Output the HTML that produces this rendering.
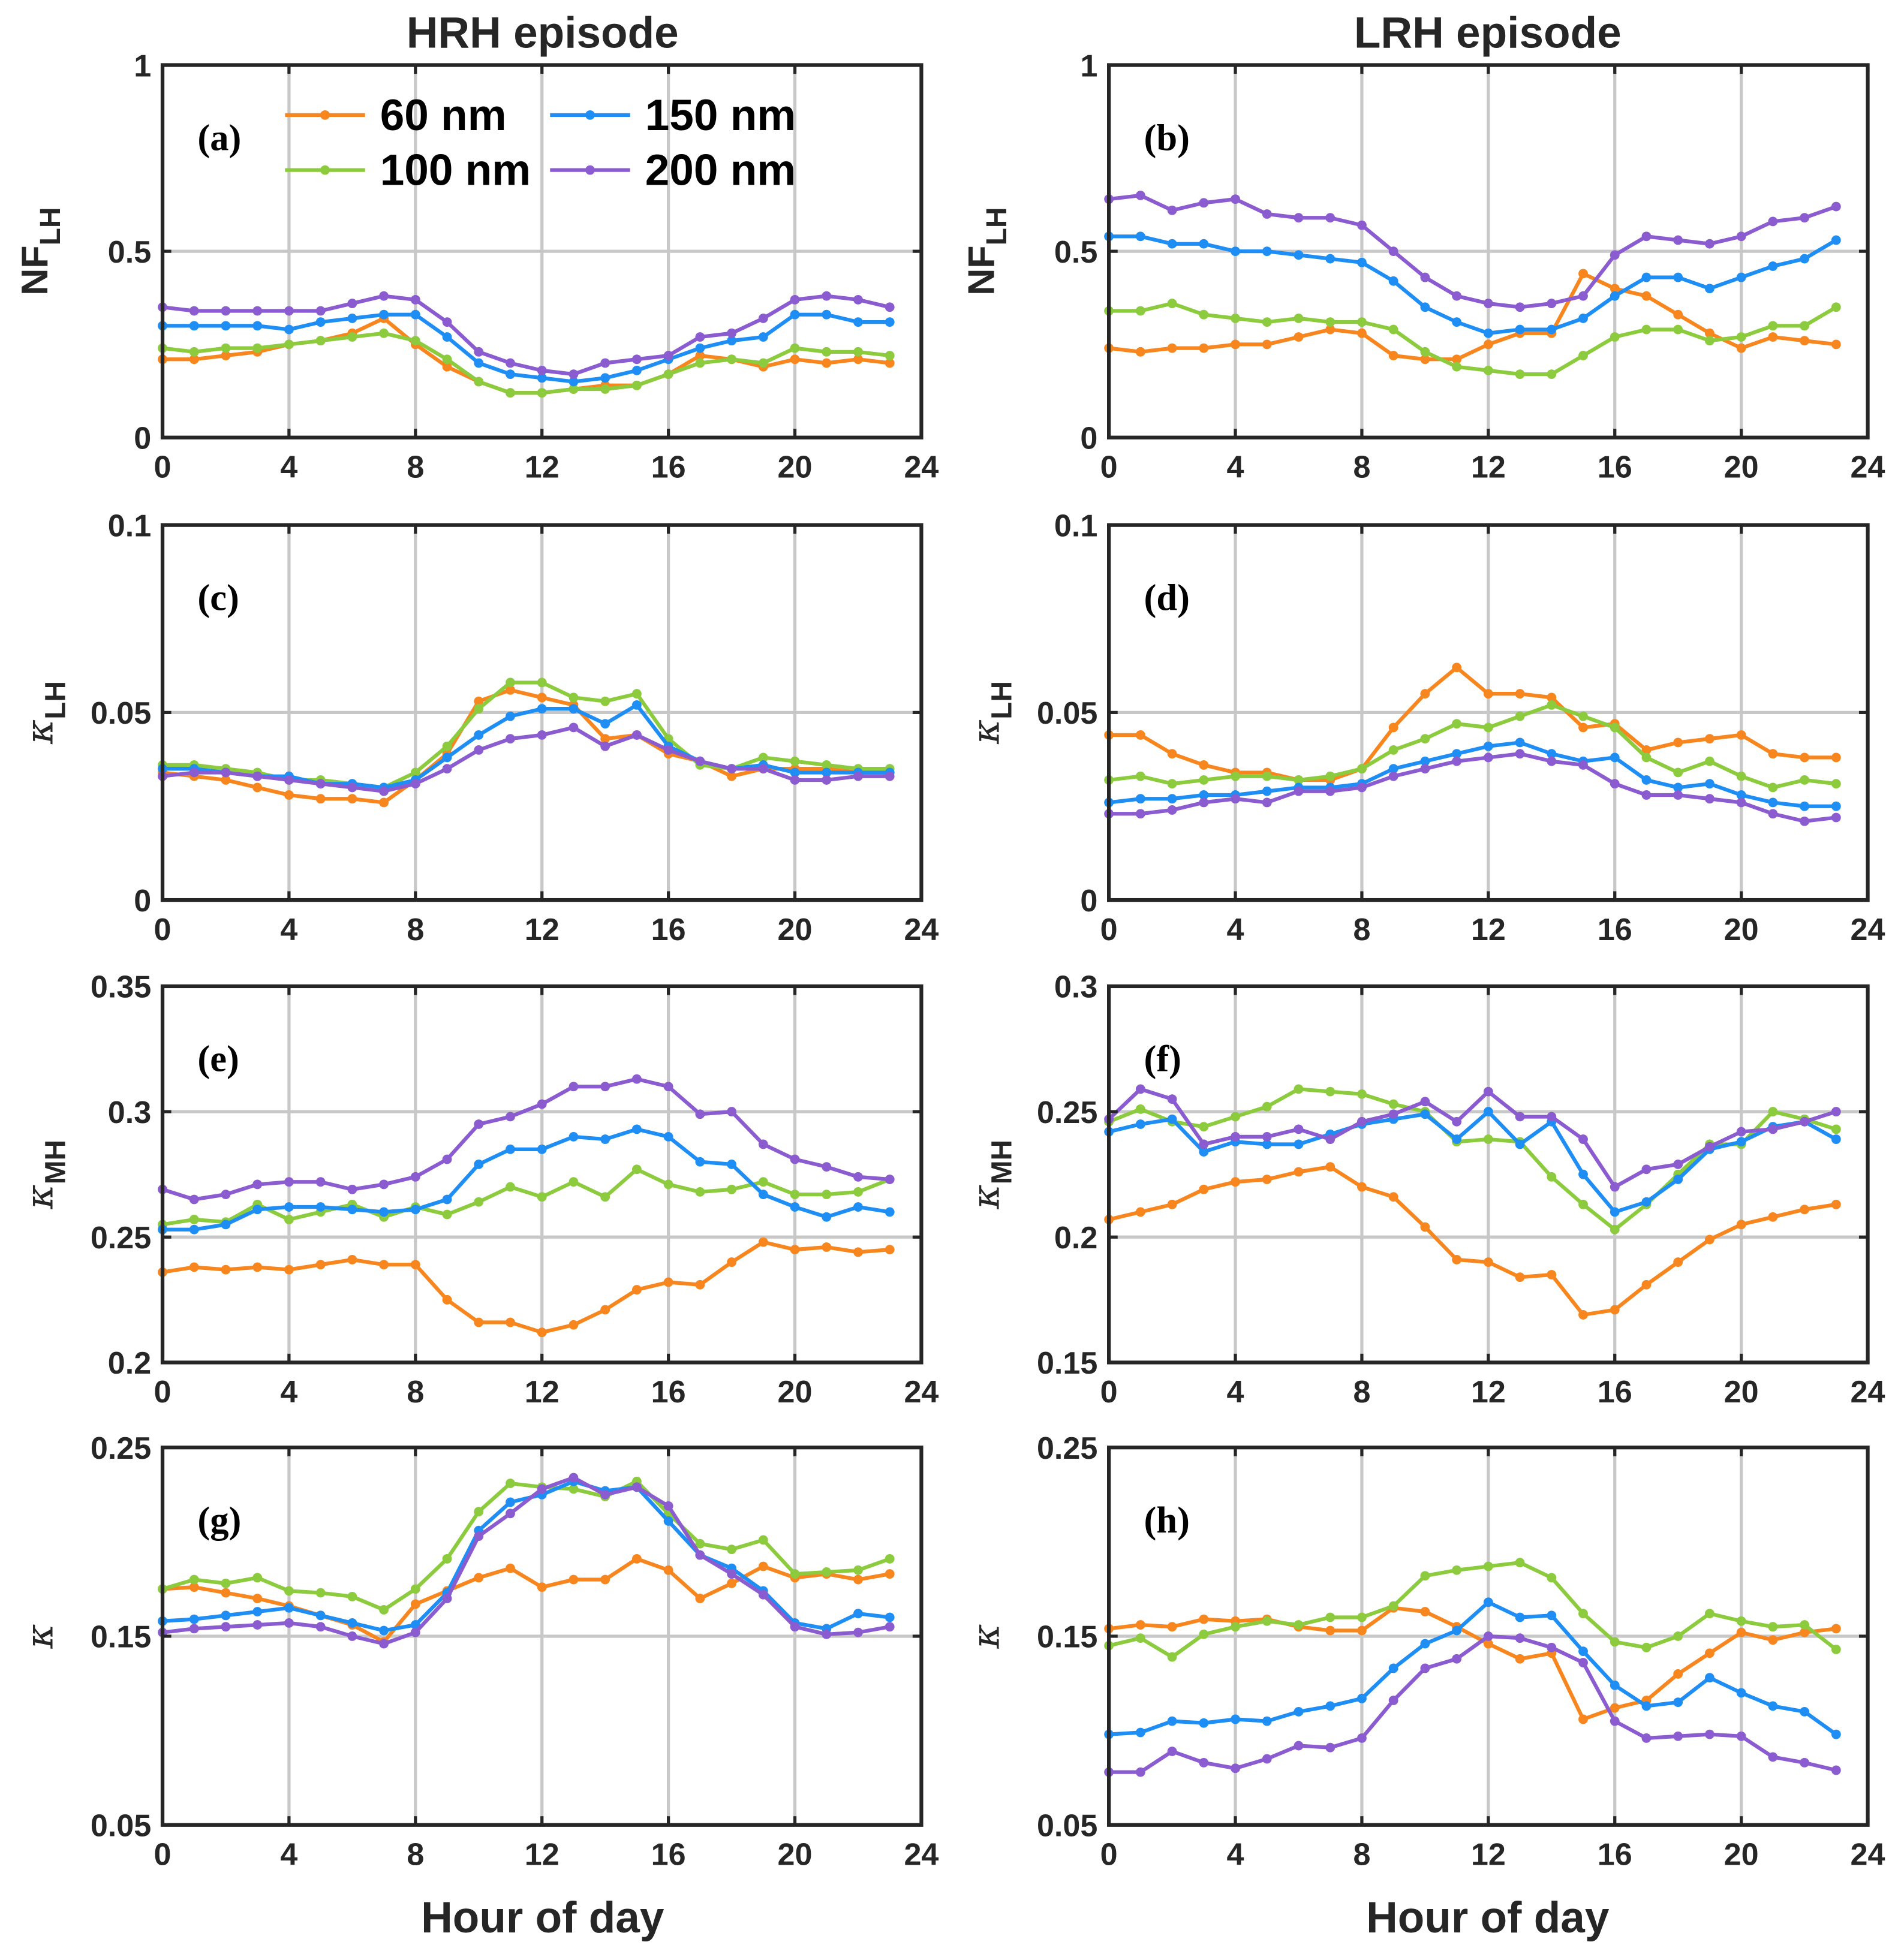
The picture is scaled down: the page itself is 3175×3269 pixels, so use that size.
<!DOCTYPE html>
<html><head><meta charset="utf-8">
<style>html,body{margin:0;padding:0;background:#fff}svg{display:block}</style>
</head><body>
<svg id="fig" xmlns="http://www.w3.org/2000/svg" width="3175" height="3269" viewBox="0 0 1523 1568" font-family="Liberation Sans, sans-serif">
<rect width="1523" height="1568" fill="#fff"/>
<text x="434" y="38" font-size="35" font-weight="bold" text-anchor="middle" fill="#262626">HRH episode</text>
<text x="1190" y="38" font-size="35" font-weight="bold" text-anchor="middle" fill="#262626">LRH episode</text>
<text x="434" y="1546" font-size="35" font-weight="bold" text-anchor="middle" fill="#262626">Hour of day</text>
<text x="1190" y="1546" font-size="35" font-weight="bold" text-anchor="middle" fill="#262626">Hour of day</text>
</svg>
<script>
const hours=[0,1,2,3,4,5,6,7,8,9,10,11,12,13,14,15,16,17,18,19,20,21,22,23];
const seriesNames=['60 nm','100 nm','150 nm','200 nm'];
const colors=['#F7861E','#8DCB3E','#1E8EF5','#8B5BD0'];
const a60=[.21,.21,.22,.23,.25,.26,.28,.32,.25,.19,.15,.12,.12,.13,.14,.14,.17,.22,.21,.19,.21,.20,.21,.20];
const a100=[.24,.23,.24,.24,.25,.26,.27,.28,.26,.21,.15,.12,.12,.13,.13,.14,.17,.20,.21,.20,.24,.23,.23,.22];
const a150=[.30,.30,.30,.30,.29,.31,.32,.33,.33,.27,.20,.17,.16,.15,.16,.18,.21,.24,.26,.27,.33,.33,.31,.31];
const a200=[.35,.34,.34,.34,.34,.34,.36,.38,.37,.31,.23,.20,.18,.17,.20,.21,.22,.27,.28,.32,.37,.38,.37,.35];
const b60=[.24,.23,.24,.24,.25,.25,.27,.29,.28,.22,.21,.21,.25,.28,.28,.44,.40,.38,.33,.28,.24,.27,.26,.25];
const b100=[.34,.34,.36,.33,.32,.31,.32,.31,.31,.29,.23,.19,.18,.17,.17,.22,.27,.29,.29,.26,.27,.30,.30,.35];
const b150=[.54,.54,.52,.52,.50,.50,.49,.48,.47,.42,.35,.31,.28,.29,.29,.32,.38,.43,.43,.40,.43,.46,.48,.53];
const b200=[.64,.65,.61,.63,.64,.60,.59,.59,.57,.50,.43,.38,.36,.35,.36,.38,.49,.54,.53,.52,.54,.58,.59,.62];
const c60=[.034,.033,.032,.030,.028,.027,.027,.026,.032,.039,.053,.056,.054,.052,.043,.044,.039,.037,.033,.035,.035,.035,.034,.034];
const c100=[.036,.036,.035,.034,.032,.032,.031,.030,.034,.041,.051,.058,.058,.054,.053,.055,.043,.036,.035,.038,.037,.036,.035,.035];
const c150=[.035,.035,.034,.033,.033,.031,.031,.030,.032,.038,.044,.049,.051,.051,.047,.052,.041,.037,.035,.036,.034,.034,.034,.034];
const c200=[.033,.034,.034,.033,.032,.031,.030,.029,.031,.035,.040,.043,.044,.046,.041,.044,.040,.037,.035,.035,.032,.032,.033,.033];
const d60=[.044,.044,.039,.036,.034,.034,.032,.032,.035,.046,.055,.062,.055,.055,.054,.046,.047,.040,.042,.043,.044,.039,.038,.038];
const d100=[.032,.033,.031,.032,.033,.033,.032,.033,.035,.040,.043,.047,.046,.049,.052,.049,.046,.038,.034,.037,.033,.030,.032,.031];
const d150=[.026,.027,.027,.028,.028,.029,.030,.030,.031,.035,.037,.039,.041,.042,.039,.037,.038,.032,.030,.031,.028,.026,.025,.025];
const d200=[.023,.023,.024,.026,.027,.026,.029,.029,.030,.033,.035,.037,.038,.039,.037,.036,.031,.028,.028,.027,.026,.023,.021,.022];
const e60=[.236,.238,.237,.238,.237,.239,.241,.239,.239,.225,.216,.216,.212,.215,.221,.229,.232,.231,.240,.248,.245,.246,.244,.245];
const e100=[.255,.257,.256,.263,.257,.260,.263,.258,.262,.259,.264,.270,.266,.272,.266,.277,.271,.268,.269,.272,.267,.267,.268,.273];
const e150=[.253,.253,.255,.261,.262,.262,.261,.260,.261,.265,.279,.285,.285,.290,.289,.293,.290,.280,.279,.267,.262,.258,.262,.260];
const e200=[.269,.265,.267,.271,.272,.272,.269,.271,.274,.281,.295,.298,.303,.310,.310,.313,.310,.299,.300,.287,.281,.278,.274,.273];
const f60=[.207,.210,.213,.219,.222,.223,.226,.228,.220,.216,.204,.191,.190,.184,.185,.169,.171,.181,.190,.199,.205,.208,.211,.213];
const f100=[.246,.251,.246,.244,.248,.252,.259,.258,.257,.253,.250,.238,.239,.238,.224,.213,.203,.213,.225,.237,.237,.250,.247,.243];
const f150=[.242,.245,.247,.234,.238,.237,.237,.241,.245,.247,.249,.239,.250,.237,.246,.225,.210,.214,.223,.235,.238,.244,.246,.239];
const f200=[.247,.259,.255,.237,.240,.240,.243,.239,.246,.249,.254,.246,.258,.248,.248,.239,.220,.227,.229,.236,.242,.243,.246,.250];
const g60=[.175,.176,.173,.170,.166,.161,.156,.147,.167,.174,.181,.186,.176,.180,.180,.191,.185,.170,.178,.187,.181,.183,.180,.183];
const g100=[.175,.180,.178,.181,.174,.173,.171,.164,.175,.191,.216,.231,.229,.228,.224,.232,.215,.199,.196,.201,.183,.184,.185,.191];
const g150=[.158,.159,.161,.163,.165,.161,.157,.153,.156,.173,.206,.221,.225,.232,.227,.229,.211,.193,.186,.174,.157,.154,.162,.160];
const g200=[.152,.154,.155,.156,.157,.155,.150,.146,.152,.170,.203,.215,.228,.234,.225,.229,.219,.193,.183,.172,.155,.151,.152,.155];
const h60=[.154,.156,.155,.159,.158,.159,.155,.153,.153,.165,.163,.155,.146,.138,.141,.106,.112,.116,.130,.141,.152,.148,.152,.154];
const h100=[.145,.149,.139,.151,.155,.158,.156,.160,.160,.166,.182,.185,.187,.189,.181,.162,.147,.144,.150,.162,.158,.155,.156,.143];
const h150=[.098,.099,.105,.104,.106,.105,.110,.113,.117,.133,.146,.153,.168,.160,.161,.142,.124,.113,.115,.128,.120,.113,.110,.098];
const h200=[.078,.078,.089,.083,.080,.085,.092,.091,.096,.116,.133,.138,.150,.149,.144,.136,.105,.096,.097,.098,.097,.086,.083,.079];
const xTicks=[0,4,8,12,16,20,24];
const ticksNF=['0','0.5','1'];
const ticksLH=['0','0.05','0.1'];
const ticksE=['0.2','0.25','0.3','0.35'];
const ticksF=['0.15','0.2','0.25','0.3'];
const ticksG=['0.05','0.15','0.25'];

const svg=document.getElementById('fig');
const NS='http://www.w3.org/2000/svg';
function mk(tag,attrs,parent){const e=document.createElementNS(NS,tag);for(const k in attrs)e.setAttribute(k,attrs[k]);(parent||svg).appendChild(e);return e;}
const cols=[130,887],W=607;
const rows=[[52,350],[420,720],[789,1090],[1158,1460]];
const panels=[
 {id:'a',c:0,r:0,data:[a60,a100,a150,a200],ticks:ticksNF,lab:'NF',sub:'LH',k:false},
 {id:'b',c:1,r:0,data:[b60,b100,b150,b200],ticks:ticksNF,lab:'NF',sub:'LH',k:false},
 {id:'c',c:0,r:1,data:[c60,c100,c150,c200],ticks:ticksLH,lab:'κ',sub:'LH',k:true},
 {id:'d',c:1,r:1,data:[d60,d100,d150,d200],ticks:ticksLH,lab:'κ',sub:'LH',k:true},
 {id:'e',c:0,r:2,data:[e60,e100,e150,e200],ticks:ticksE,lab:'κ',sub:'MH',k:true},
 {id:'f',c:1,r:2,data:[f60,f100,f150,f200],ticks:ticksF,lab:'κ',sub:'MH',k:true},
 {id:'g',c:0,r:3,data:[g60,g100,g150,g200],ticks:ticksG,lab:'κ',sub:'',k:true},
 {id:'h',c:1,r:3,data:[h60,h100,h150,h200],ticks:ticksG,lab:'κ',sub:'',k:true}];
panels.forEach(p=>{
 const x0=cols[p.c],y0=rows[p.r][0],y1=rows[p.r][1];
 const tv=p.ticks.map(Number),ymin=tv[0],ymax=tv[tv.length-1];
 const X=h=>x0+h/24*W, Y=v=>y1-(v-ymin)/(ymax-ymin)*(y1-y0);
 const g=mk('g',{});
 
 
 xTicks.slice(1,-1).forEach(t=>mk('line',{x1:X(t),x2:X(t),y1:y0,y2:y1,stroke:'#c8c8c8','stroke-width':2.5},g));
 tv.slice(1,-1).forEach(t=>mk('line',{x1:x0,x2:x0+W,y1:Y(t),y2:Y(t),stroke:'#c8c8c8','stroke-width':2.5},g));
 p.data.forEach((s,i)=>{
  const pl=mk('polyline',{points:s.map((v,j)=>X(hours[j])+','+Y(v)).join(' '),fill:'none',stroke:colors[i],'stroke-width':3},g);
  
  
  s.forEach((v,j)=>mk('circle',{cx:X(hours[j]),cy:Y(v),r:3.8,fill:colors[i]},g));
 });
 const fr=mk('rect',{x:x0,y:y0,width:W,height:y1-y0,fill:'none',stroke:'#262626','stroke-width':3},g);
 
 
 xTicks.forEach(t=>{
  mk('line',{x1:X(t),x2:X(t),y1:y1,y2:y1-7,stroke:'#262626','stroke-width':2.5},g);
  mk('line',{x1:X(t),x2:X(t),y1:y0,y2:y0+7,stroke:'#262626','stroke-width':2.5},g);
  const tx=mk('text',{x:X(t),y:y1+32,'font-size':25,'font-weight':'bold','text-anchor':'middle',fill:'#262626'},g);tx.textContent=t;
 });
 p.ticks.forEach((t,i)=>{
  mk('line',{x1:x0,x2:x0+7,y1:Y(tv[i]),y2:Y(tv[i]),stroke:'#262626','stroke-width':2.5},g);
  mk('line',{x1:x0+W,x2:x0+W-7,y1:Y(tv[i]),y2:Y(tv[i]),stroke:'#262626','stroke-width':2.5},g);
  const ty=mk('text',{x:x0-9,y:Y(tv[i])+9,'font-size':25,'font-weight':'bold','text-anchor':'end',fill:'#262626'},g);ty.textContent=t;
 });
 const pid=mk('text',{x:x0+28,y:y0+68,'font-size':30,'font-weight':'bold','font-family':'Liberation Serif, serif',fill:'#000'},g);pid.textContent='('+p.id+')';
 const cy=(y0+y1)/2, lx=x0-92;
 const yl=mk('text',{transform:`translate(${lx+ (p.k?4:0)},${cy}) rotate(-90)`,'font-size':p.k?30:30,'font-weight':p.k?'normal':'bold','font-family':p.k?'DejaVu Serif, serif':'Liberation Sans, sans-serif','font-style':p.k?'italic':'normal','text-anchor':'middle',fill:'#262626'},g);
 
 
 yl.textContent=p.lab;
 if(p.sub){const ts=mk('tspan',{dy:10,'font-size':23,'font-weight':'bold','font-style':'normal','font-family':'Liberation Sans, sans-serif'},yl);ts.textContent=p.sub;}
});
const lg=mk('g',{});


const lpos=[[228,92],[228,136],[440,92],[440,136]];
seriesNames.forEach((n,i)=>{
 const [lx,ly]=lpos[i];
 mk('line',{x1:lx,x2:lx+64,y1:ly,y2:ly,stroke:colors[i],'stroke-width':3},lg);
 mk('circle',{cx:lx+32,cy:ly,r:3.8,fill:colors[i]},lg);
 const t=mk('text',{x:lx+76,y:ly+12,'font-size':35,'font-weight':'bold',fill:'#000'},lg);
 
 
 t.textContent=n;
});
</script>
</body></html>
